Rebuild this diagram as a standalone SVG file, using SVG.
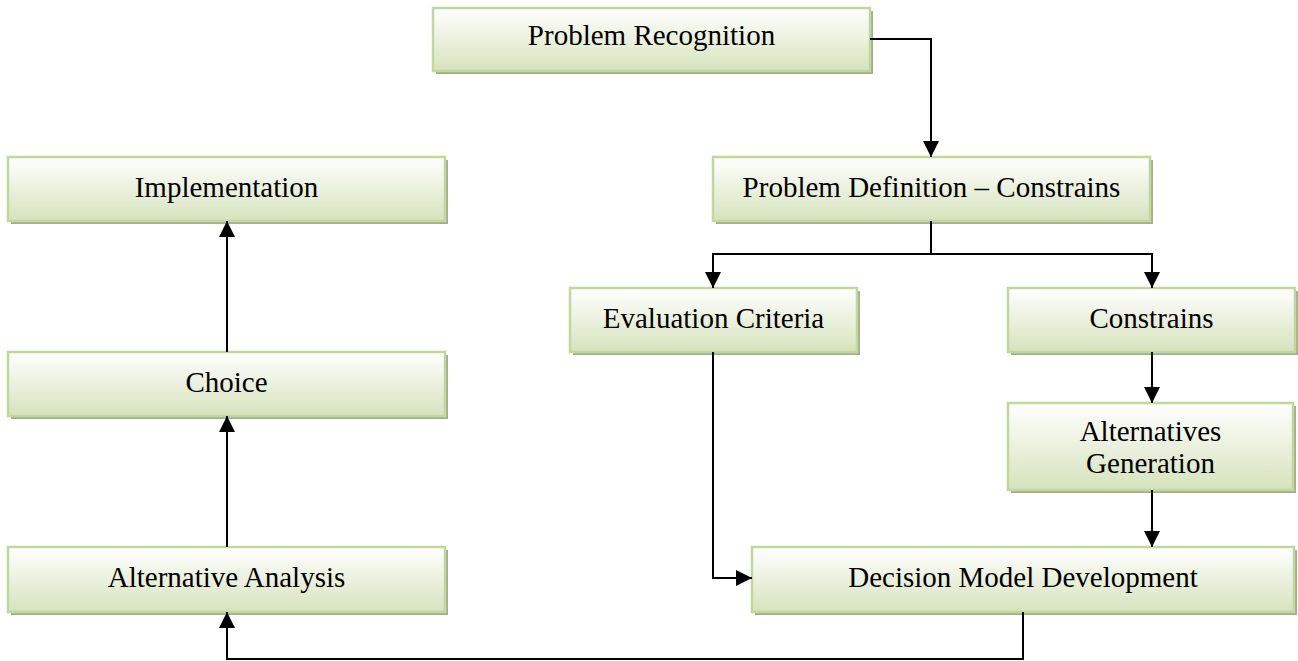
<svg xmlns="http://www.w3.org/2000/svg" width="1298" height="661" viewBox="0 0 1298 661">
  <defs>
    <linearGradient id="boxFill" x1="0" y1="0" x2="0" y2="1">
      <stop offset="0" stop-color="#ffffff"/>
      <stop offset="1" stop-color="#d6e3bc"/>
    </linearGradient>
    <marker id="arrow" markerUnits="userSpaceOnUse" markerWidth="16" markerHeight="16" refX="16" refY="8" orient="auto" viewBox="0 0 16 16">
      <path d="M0,0 L16,8 L0,16 Z" fill="#000"/>
    </marker>
  </defs>
  <style>
    .shadow { fill: #a4ae8a; }
    .box { fill: url(#boxFill); stroke: #c3d69b; stroke-width: 2.5; }
    .label { font-family: "Liberation Serif", "Times New Roman", serif; font-size: 29px; fill: #000; text-anchor: middle; }
    .link { fill: none; stroke: #000; stroke-width: 2; }
  </style>
  <rect width="1298" height="661" fill="#ffffff"/>

  <!-- process steps -->
  <g id="problem-recognition">
    <rect class="shadow" x="436" y="11" width="437" height="63"/>
    <rect class="box" x="433" y="8" width="437" height="63"/>
    <text class="label" x="651.5" y="45">Problem Recognition</text>
  </g>
  <g id="implementation">
    <rect class="shadow" x="11" y="160" width="437" height="64"/>
    <rect class="box" x="8" y="157" width="437" height="64"/>
    <text class="label" x="226.5" y="197">Implementation</text>
  </g>
  <g id="problem-definition">
    <rect class="shadow" x="716" y="160" width="437" height="64"/>
    <rect class="box" x="713" y="157" width="437" height="64"/>
    <text class="label" x="931.5" y="197">Problem Definition – Constrains</text>
  </g>
  <g id="evaluation-criteria">
    <rect class="shadow" x="573" y="291" width="287" height="64"/>
    <rect class="box" x="570" y="288" width="287" height="64"/>
    <text class="label" x="713.5" y="328">Evaluation Criteria</text>
  </g>
  <g id="constrains">
    <rect class="shadow" x="1011" y="291" width="287" height="64"/>
    <rect class="box" x="1008" y="288" width="287" height="64"/>
    <text class="label" x="1151.5" y="328">Constrains</text>
  </g>
  <g id="choice">
    <rect class="shadow" x="11" y="355" width="437" height="64"/>
    <rect class="box" x="8" y="352" width="437" height="64"/>
    <text class="label" x="226.5" y="392">Choice</text>
  </g>
  <g id="alternatives-generation">
    <rect class="shadow" x="1011" y="406" width="285" height="87"/>
    <rect class="box" x="1008" y="403" width="285" height="87"/>
    <text class="label" x="1150.5" y="441">Alternatives</text>
    <text class="label" x="1150.5" y="473">Generation</text>
  </g>
  <g id="alternative-analysis">
    <rect class="shadow" x="11" y="550" width="437" height="65"/>
    <rect class="box" x="8" y="547" width="437" height="65"/>
    <text class="label" x="226.5" y="587">Alternative Analysis</text>
  </g>
  <g id="decision-model-development">
    <rect class="shadow" x="755" y="550" width="542" height="65"/>
    <rect class="box" x="752" y="547" width="542" height="65"/>
    <text class="label" x="1023" y="587">Decision Model Development</text>
  </g>

  <!-- connectors -->
  <g id="connectors">
    <path class="link" d="M870,39 H931 V157" marker-end="url(#arrow)"/>
    <path class="link" d="M931,221 V254"/>
    <path class="link" d="M931,254 H713 V288" marker-end="url(#arrow)"/>
    <path class="link" d="M931,254 H1152 V288" marker-end="url(#arrow)"/>
    <path class="link" d="M1152,352 V403" marker-end="url(#arrow)"/>
    <path class="link" d="M1152,490 V547" marker-end="url(#arrow)"/>
    <path class="link" d="M713,352 V578 H752" marker-end="url(#arrow)"/>
    <path class="link" d="M1023,612 V659 H227 V612" marker-end="url(#arrow)"/>
    <path class="link" d="M227,547 V416" marker-end="url(#arrow)"/>
    <path class="link" d="M227,352 V221" marker-end="url(#arrow)"/>
  </g>
</svg>
